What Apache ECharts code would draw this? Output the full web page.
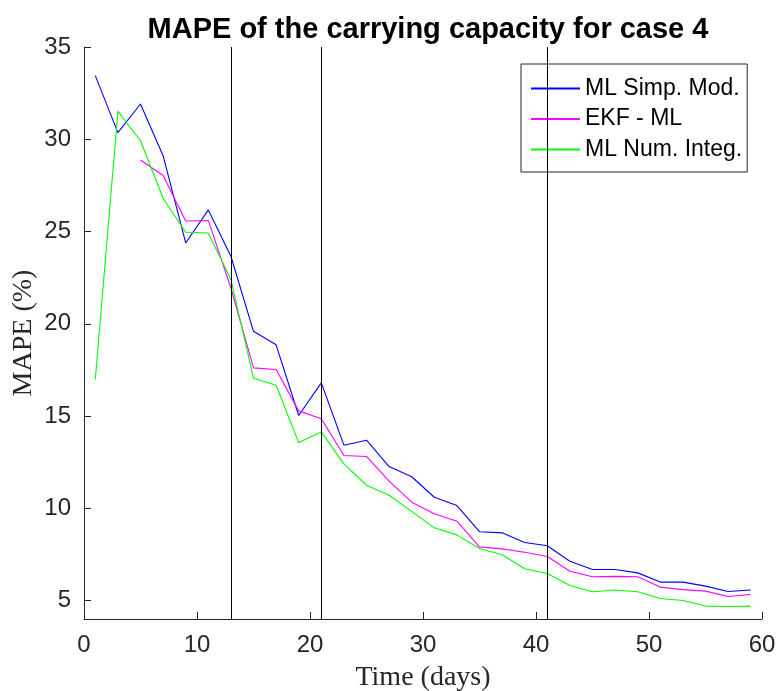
<!DOCTYPE html>
<html>
<head>
<meta charset="utf-8">
<script src="https://cdn.jsdelivr.net/npm/echarts@6/dist/echarts.min.js"></script>
<style>
  html, body { margin: 0; padding: 0; background: #fff; }
  #chart { width: 780px; height: 691px; }
</style>
</head>
<body>
<div id="chart"></div>
<script>
// Days at which the MAPE was evaluated
const days = [1, 3, 5, 7, 9, 11, 13, 15, 17, 19, 21, 23, 25, 27, 29, 31, 33, 35, 37, 39, 41, 43, 45, 47, 49, 51, 53, 55, 57, 59];

// MAPE (%) of the carrying capacity, per method
const mlSimpMod = [33.45, 30.36, 31.91, 29.11, 24.38, 26.17, 23.66, 19.59, 18.86, 15.03, 16.80, 13.42, 13.69, 12.26, 11.71, 10.60, 10.15, 8.73, 8.67, 8.15, 7.97, 7.13, 6.68, 6.68, 6.50, 6.00, 6.00, 5.78, 5.49, 5.57];
const ekfMl = [null, null, 28.88, 28.04, 25.57, 25.60, 21.94, 17.61, 17.52, 15.28, 14.85, 12.86, 12.81, 11.47, 10.33, 9.70, 9.30, 7.91, 7.80, 7.62, 7.39, 6.59, 6.29, 6.31, 6.29, 5.73, 5.59, 5.51, 5.22, 5.33];
const mlNumInteg = [16.98, 31.51, 29.92, 26.80, 24.96, 24.92, 22.40, 17.05, 16.67, 13.56, 14.14, 12.41, 11.25, 10.71, 9.83, 8.94, 8.56, 7.82, 7.48, 6.72, 6.47, 5.82, 5.48, 5.57, 5.48, 5.11, 5.00, 4.70, 4.68, 4.70];

// Vertical reference days
const markerDays = [13, 21, 41];

// Axis tick values
const yTicks = [5, 10, 15, 20, 25, 30, 35];

const seriesNames = ['ML Simp. Mod.', 'EKF - ML', 'ML Num. Integ.'];
const seriesColors = ['#0000ff', '#ff00ff', '#00ff00'];
const seriesValues = [mlSimpMod, ekfMl, mlNumInteg];

const pair = (vals) => days.map((d, i) => [d, vals[i]]);

const textColor = '#262626';
const sans = '"Liberation Sans", Arial, Helvetica, sans-serif';
const serif = '"Liberation Serif", "Times New Roman", serif';

const chart = echarts.init(document.getElementById('chart'), null, { renderer: 'canvas' });

const series = seriesNames.map((name, k) => ({
  name: name,
  type: 'line',
  data: pair(seriesValues[k]),
  symbol: 'none',
  connectNulls: false,
  lineStyle: { color: seriesColors[k], width: 1.1 },
  itemStyle: { color: seriesColors[k] },
  emphasis: { disabled: true },
  z: 3
}));

// Black vertical lines at the marker days
series.push({
  name: 'markers',
  type: 'line',
  data: [],
  silent: true,
  markLine: {
    silent: true,
    symbol: 'none',
    label: { show: false },
    lineStyle: { color: '#000', width: 1, type: 'solid' },
    emphasis: { disabled: true },
    data: markerDays.map(d => ({ xAxis: d }))
  },
  z: 2
});

chart.setOption({
  animation: false,
  backgroundColor: '#fff',
  title: {
    text: 'MAPE of the carrying capacity for case 4',
    left: 423,
    top: 10,
    textAlign: 'center',
    textStyle: { fontFamily: sans, fontWeight: 'bold', fontSize: 29, color: '#000' }
  },
  grid: { left: 84, right: 18, top: 47, bottom: 72, containLabel: false, outerBoundsMode: 'none' },
  legend: {
    data: seriesNames,
    orient: 'vertical',
    left: 521,
    top: 64,
    padding: [13, 5, 11, 9],
    itemGap: 7.5,
    itemWidth: 49,
    itemHeight: 14,
    itemStyle: { opacity: 0 },
    backgroundColor: '#fff',
    borderColor: '#262626',
    borderWidth: 1,
    borderRadius: 0,
    selectedMode: false,
    textStyle: { fontFamily: sans, fontSize: 23, color: '#000', lineHeight: 20 }
  },
  xAxis: {
    type: 'value',
    min: 0,
    max: 60,
    interval: 10,
    axisLine: { show: true, onZero: false, lineStyle: { color: textColor, width: 1 } },
    axisTick: { show: true, inside: true, length: 7, lineStyle: { color: textColor } },
    axisLabel: { fontFamily: sans, fontSize: 24, color: textColor, margin: 14 },
    splitLine: { show: false },
    name: 'Time (days)',
    nameLocation: 'middle',
    nameGap: 45,
    nameMoveOverlap: false,
    nameTextStyle: { fontFamily: serif, fontSize: 28, color: textColor }
  },
  yAxis: {
    type: 'value',
    min: 4,
    max: 35,
    axisLine: { show: true, onZero: false, lineStyle: { color: textColor, width: 1 } },
    axisTick: { show: true, inside: true, length: 7, customValues: yTicks, lineStyle: { color: textColor } },
    axisLabel: { fontFamily: sans, fontSize: 24, color: textColor, margin: 13, customValues: yTicks },
    splitLine: { show: false },
    name: 'MAPE (%)',
    nameLocation: 'middle',
    nameGap: 46,
    nameMoveOverlap: false,
    nameTextStyle: { fontFamily: serif, fontSize: 28, color: textColor }
  },
  series: series
});
</script>
</body>
</html>
